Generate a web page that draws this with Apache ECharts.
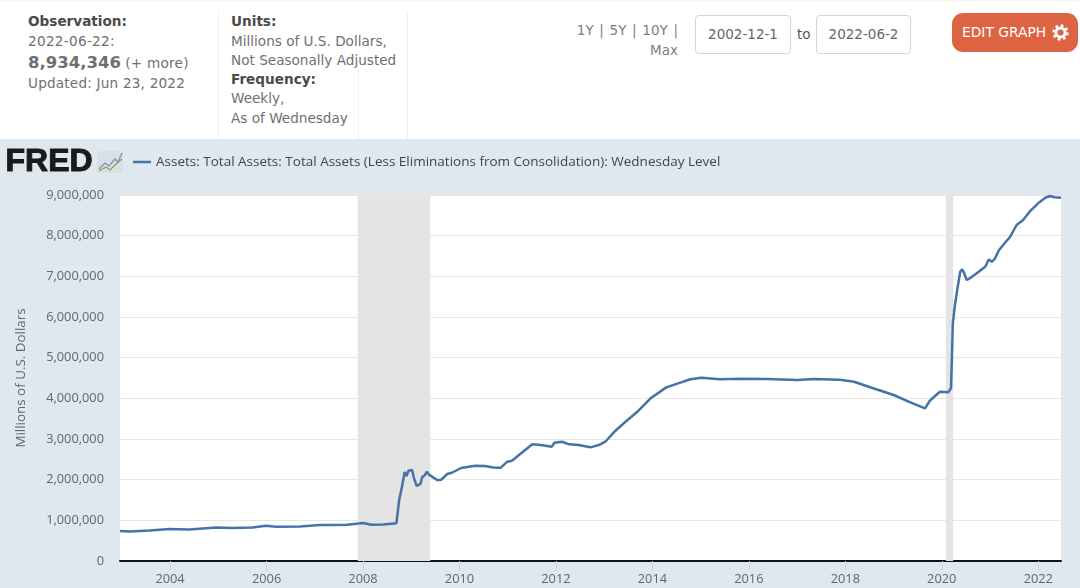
<!DOCTYPE html>
<html>
<head>
<meta charset="utf-8">
<title>FRED: Total Assets</title>
<script src="https://cdn.jsdelivr.net/npm/echarts@6/dist/echarts.min.js"></script>
<style>
  html, body { margin: 0; padding: 0; background: #fff; overflow: hidden; }
  body { width: 1080px; height: 588px; position: relative; font-family: "DejaVu Sans", sans-serif; font-size: 13.6px; color: #6f6f6f; }
  .txt { position: absolute; white-space: nowrap; line-height: 20px; }
  .txt b { color: #4a4a4a; }
  .divider { position: absolute; width: 1px; background: #ecf0f4; }
  .box { position: absolute; top: 15px; height: 37px; border: 1px solid #d5d5d5; border-radius: 4px; line-height: 37px; text-align: center; color: #666; font-size: 13.5px; }
  #btn { position: absolute; left: 952px; top: 13px; width: 126px; height: 39px; border-radius: 11px; background: #dd6342; color: #fff; line-height: 39px; font-size: 13.8px; white-space: nowrap; }
  #btn span { position: absolute; left: 10px; }
  #btn svg { position: absolute; left: 100px; top: 11px; }
  #temp { position: absolute; left: 0; top: 139px; width: 1080px; height: 449px; }
</style>
</head>
<body>
<div style="position:absolute;left:0;top:0;width:1080px;height:1px;background:#f8f8ee"></div>
<div class="divider" style="left:218px;top:12px;height:127px"></div>
<div class="divider" style="left:407px;top:12px;height:127px"></div>
<div class="divider" style="left:358px;top:70px;height:69px"></div>

<div class="txt" style="left:28px;top:11px"><b>Observation:</b></div>
<div class="txt" style="left:28px;top:31px;letter-spacing:.3px">2022-06-22:</div>
<div class="txt" style="left:28px;top:53px"><span style="font-size:16.5px;font-weight:bold">8,934,346</span> <span style="letter-spacing:.25px">(+ more)</span></div>
<div class="txt" style="left:28px;top:73px;letter-spacing:.2px">Updated: Jun 23, 2022</div>

<div class="txt" style="left:231px;top:11px"><b>Units:</b></div>
<div class="txt" style="left:231px;top:31px">Millions of U.S. Dollars,</div>
<div class="txt" style="left:231px;top:50px">Not Seasonally Adjusted</div>
<div class="txt" style="left:231px;top:69px"><b>Frequency:</b></div>
<div class="txt" style="left:231px;top:88px">Weekly,</div>
<div class="txt" style="left:231px;top:108px">As of Wednesday</div>

<div class="txt" style="right:402px;top:20px;font-size:13.5px;color:#77808a;word-spacing:1.4px">1Y | 5Y | 10Y |</div>
<div class="txt" style="right:402px;top:40px;font-size:13.5px;color:#77808a">Max</div>
<div class="box" style="left:695px;width:94px">2002-12-1</div>
<div class="txt" style="left:797px;top:24px;font-size:13.5px;color:#555">to</div>
<div class="box" style="left:816px;width:93px">2022-06-2</div>
<div id="btn"><span>EDIT GRAPH</span><svg width="17" height="17" viewBox="0 0 17 17"><circle cx="8.5" cy="8.5" r="4.6" fill="none" stroke="#fff" stroke-width="3"/><circle cx="8.5" cy="8.5" r="6.9" fill="none" stroke="#fff" stroke-width="2.6" stroke-dasharray="2.7 2.72"/></svg></div>

<div id="temp"></div>

<script>
const SERIES_NAME = 'Assets: Total Assets: Total Assets (Less Eliminations from Consolidation): Wednesday Level';
const BLUE = '#4572a7';
const GREY = '#666666';
const AXIS_FONT = '"Open Sans", sans-serif';

const obsDates = [
  '2002-12-18', '2003-03-05', '2003-07-30', '2003-12-24', '2004-05-26', '2004-12-15',
  '2005-04-13', '2005-09-14', '2005-12-28', '2006-03-15', '2006-09-13', '2007-02-07',
  '2007-05-23', '2007-09-05', '2008-01-02', '2008-03-05', '2008-06-04', '2008-09-10',
  '2008-10-01', '2008-10-22', '2008-11-12', '2008-11-26', '2008-12-10', '2009-01-07',
  '2009-01-21', '2009-02-11', '2009-03-11', '2009-03-25', '2009-04-15', '2009-04-29',
  '2009-05-13', '2009-05-27', '2009-07-15', '2009-08-12', '2009-09-30', '2009-11-04',
  '2010-01-13', '2010-04-28', '2010-07-14', '2010-09-15', '2010-11-10', '2010-12-29',
  '2011-02-02', '2011-07-06', '2011-09-07', '2011-11-30', '2011-12-21', '2012-02-15',
  '2012-04-11', '2012-06-20', '2012-09-19', '2012-11-21', '2013-01-09', '2013-03-27',
  '2013-05-29', '2013-09-04', '2013-12-18', '2014-04-16', '2014-08-06', '2014-10-15',
  '2015-01-07', '2015-05-27', '2015-10-28', '2016-05-18', '2017-01-04', '2017-05-03',
  '2017-11-22', '2018-03-07', '2018-07-25', '2019-01-02', '2019-05-08', '2019-08-28',
  '2019-10-02', '2019-12-18', '2020-02-19', '2020-03-11', '2020-03-18', '2020-03-25',
  '2020-04-08', '2020-04-29', '2020-05-20', '2020-06-03', '2020-06-17', '2020-07-08',
  '2020-08-12', '2020-10-07', '2020-11-25', '2020-12-23', '2021-01-13', '2021-02-03',
  '2021-03-10', '2021-04-21', '2021-06-02', '2021-07-21', '2021-09-08', '2021-10-27',
  '2022-01-05', '2022-02-23', '2022-03-30', '2022-05-04', '2022-06-22'
];

// millions of dollars
const totalAssets = [
  735000, 727000, 752000, 785000, 777000, 826000,
  810000, 826000, 868000, 843000, 851000, 884000,
  884000, 893000, 934000, 893000, 900000, 926000,
  1500000, 1820000, 2190000, 2090000, 2220000, 2240000,
  2040000, 1845000, 1893000, 2065000, 2115000, 2195000,
  2130000, 2090000, 1990000, 1990000, 2140000, 2170000,
  2287000, 2343000, 2336000, 2300000, 2294000, 2443000,
  2466000, 2869000, 2852000, 2811000, 2909000, 2933000,
  2869000, 2852000, 2795000, 2852000, 2933000, 3204000,
  3386000, 3656000, 4000000, 4270000, 4394000, 4470000,
  4507000, 4467000, 4483000, 4475000, 4451000, 4475000,
  4458000, 4409000, 4254000, 4082000, 3902000, 3754000,
  3941000, 4163000, 4148000, 4247000, 5023000, 5845000,
  6253000, 6705000, 7113000, 7172000, 7090000, 6910000,
  6976000, 7113000, 7236000, 7417000, 7360000, 7417000,
  7647000, 7812000, 7975000, 8262000, 8385000, 8590000,
  8810000, 8933000, 8975000, 8943000, 8934346
];

const recessionStarts = ['2007-11-22', '2020-02-01'];
const recessionEnds = ['2009-05-25', '2020-03-28'];

const chartOptions = {
  animation: false,
  backgroundColor: '#dfe7ef',
  tooltip: { trigger: 'axis' },
  grid: {
    left: 120,
    right: 19,
    top: 56,
    bottom: 27,
    show: true,
    backgroundColor: '#ffffff',
    borderWidth: 0
  },
  legend: {
    left: 133,
    top: 16,
    itemWidth: 18,
    itemHeight: 2.5,
    itemGap: 0,
    padding: 0,
    icon: 'rect',
    textStyle: { color: '#454545', fontFamily: AXIS_FONT, fontSize: 13.5 },
    data: [SERIES_NAME]
  },
  graphic: [
    {
      type: 'text',
      left: 5,
      top: 7,
      style: {
        text: 'FRED',
        fill: '#1a1a1a',
        stroke: '#1a1a1a',
        lineWidth: 1,
        font: 'bold 32px "Liberation Sans", sans-serif'
      }
    },
    {
      type: 'rect',
      left: 97,
      top: 12,
      shape: { width: 26, height: 22, r: 2 },
      style: { fill: '#d9dfe3' }
    },
    {
      type: 'polyline',
      shape: { points: [[99, 30], [105, 24], [109, 27], [115, 20], [118, 23], [122, 14]] },
      style: { stroke: '#6f93bd', fill: null, lineWidth: 1.2 }
    },
    {
      type: 'polyline',
      shape: { points: [[99, 32], [106, 28], [110, 31], [116, 25], [122, 20]] },
      style: { stroke: '#7aa65a', fill: null, lineWidth: 1.2 }
    }
  ],
  xAxis: {
    type: 'time',
    min: '2002-12-18',
    max: '2022-06-22',
    splitNumber: 10,
    axisLine: { onZero: false, lineStyle: { color: '#111111', width: 2 } },
    axisTick: { show: true, length: 10, lineStyle: { color: '#ccd6eb' } },
    axisLabel: {
      color: GREY,
      fontFamily: AXIS_FONT,
      fontSize: 12.8,
      margin: 12,
      showMinLabel: false,
      showMaxLabel: false,
      formatter: '{yyyy}'
    },
    splitLine: { show: false }
  },
  yAxis: {
    type: 'value',
    name: 'Millions of U.S. Dollars',
    nameLocation: 'middle',
    nameGap: 92,
    nameTextStyle: { color: GREY, fontFamily: AXIS_FONT, fontSize: 13.4 },
    min: 0,
    max: 9000000,
    interval: 1000000,
    axisLine: { show: false },
    axisTick: { show: false },
    axisLabel: {
      color: GREY,
      fontFamily: AXIS_FONT,
      fontSize: 12.8,
      margin: 16,
      formatter: value => value.toLocaleString('en-US')
    },
    splitLine: { lineStyle: { color: '#e6e6e6', width: 1 } }
  },
  series: [
    {
      name: SERIES_NAME,
      type: 'line',
      showSymbol: false,
      symbol: 'none',
      smooth: false,
      itemStyle: { color: BLUE },
      lineStyle: { width: 2.5, color: BLUE },
      markArea: {
        silent: true,
        itemStyle: { color: '#e4e4e4', opacity: 1 },
        data: recessionStarts.map((start, index) => [{ xAxis: start }, { xAxis: recessionEnds[index] }])
      },
      data: obsDates.map((date, index) => [date, totalAssets[index]])
    }
  ]
};

const tempChart = echarts.init(document.getElementById('temp'));
tempChart.setOption(chartOptions);
</script>
</body>
</html>
